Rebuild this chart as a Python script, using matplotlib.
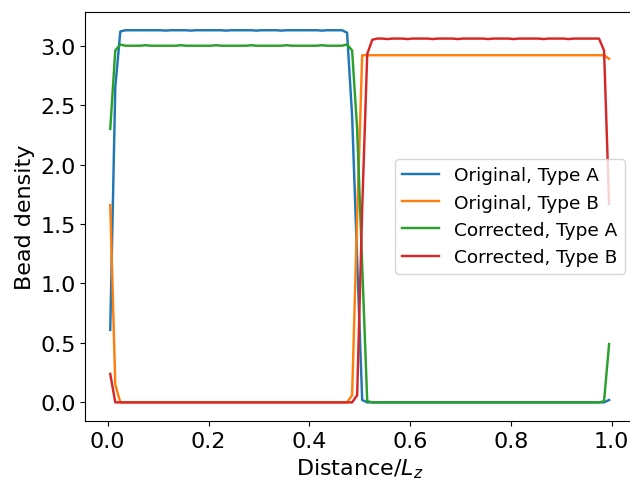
import numpy as np
import matplotlib
matplotlib.use('Agg')
import matplotlib.pyplot as plt

# bin centres along z (100 bins)
dist = np.arange(100) * 0.01 + 0.005

orig_A = [0.61, 2.65, 3.12, 3.13, 3.13, 3.13, 3.13, 3.13, 3.13, 3.13,
          3.13, 3.127, 3.13, 3.13, 3.13, 3.13, 3.127, 3.13, 3.13, 3.13,
          3.13, 3.13, 3.13, 3.127, 3.13, 3.13, 3.13, 3.13, 3.13, 3.127,
          3.13, 3.13, 3.13, 3.13, 3.127, 3.13, 3.13, 3.13, 3.13, 3.13,
          3.13, 3.13, 3.127, 3.13, 3.13, 3.13, 3.13, 3.11, 2.41, 1.20,
          0.02, 0.00, 0.00, 0.00, 0.00, 0.00, 0.00, 0.00, 0.00, 0.00,
          0.00, 0.00, 0.00, 0.00, 0.00, 0.00, 0.00, 0.00, 0.00, 0.00,
          0.00, 0.00, 0.00, 0.00, 0.00, 0.00, 0.00, 0.00, 0.00, 0.00,
          0.00, 0.00, 0.00, 0.00, 0.00, 0.00, 0.00, 0.00, 0.00, 0.00,
          0.00, 0.00, 0.00, 0.00, 0.00, 0.00, 0.00, 0.00, 0.00, 0.02]

orig_B = [1.66, 0.15, 0.00, 0.00, 0.00, 0.00, 0.00, 0.00, 0.00, 0.00,
          0.00, 0.00, 0.00, 0.00, 0.00, 0.00, 0.00, 0.00, 0.00, 0.00,
          0.00, 0.00, 0.00, 0.00, 0.00, 0.00, 0.00, 0.00, 0.00, 0.00,
          0.00, 0.00, 0.00, 0.00, 0.00, 0.00, 0.00, 0.00, 0.00, 0.00,
          0.00, 0.00, 0.00, 0.00, 0.00, 0.00, 0.00, 0.00, 0.06, 1.56,
          2.92, 2.92, 2.92, 2.92, 2.92, 2.92, 2.92, 2.92, 2.92, 2.92,
          2.92, 2.92, 2.92, 2.92, 2.92, 2.92, 2.92, 2.92, 2.92, 2.92,
          2.92, 2.92, 2.92, 2.92, 2.92, 2.92, 2.92, 2.92, 2.92, 2.92,
          2.92, 2.92, 2.92, 2.92, 2.92, 2.92, 2.92, 2.92, 2.92, 2.92,
          2.92, 2.92, 2.92, 2.92, 2.92, 2.92, 2.92, 2.92, 2.92, 2.89]

corr_A = [2.30, 2.96, 3.01, 3.00, 3.00, 3.00, 3.00, 3.004, 3.00, 3.00,
          3.00, 3.00, 3.00, 3.00, 3.004, 3.00, 3.00, 3.00, 3.00, 3.00,
          3.00, 3.004, 3.00, 3.00, 3.00, 3.00, 3.00, 3.00, 3.004, 3.00,
          3.00, 3.00, 3.00, 3.00, 3.00, 3.004, 3.00, 3.00, 3.00, 3.00,
          3.00, 3.00, 3.004, 3.00, 3.00, 3.00, 3.00, 3.01, 2.96, 2.30,
          1.15, 0.01, 0.00, 0.00, 0.00, 0.00, 0.00, 0.00, 0.00, 0.00,
          0.00, 0.00, 0.00, 0.00, 0.00, 0.00, 0.00, 0.00, 0.00, 0.00,
          0.00, 0.00, 0.00, 0.00, 0.00, 0.00, 0.00, 0.00, 0.00, 0.00,
          0.00, 0.00, 0.00, 0.00, 0.00, 0.00, 0.00, 0.00, 0.00, 0.00,
          0.00, 0.00, 0.00, 0.00, 0.00, 0.00, 0.00, 0.00, 0.01, 0.49]

corr_B = [0.24, 0.00, 0.00, 0.00, 0.00, 0.00, 0.00, 0.00, 0.00, 0.00,
          0.00, 0.00, 0.00, 0.00, 0.00, 0.00, 0.00, 0.00, 0.00, 0.00,
          0.00, 0.00, 0.00, 0.00, 0.00, 0.00, 0.00, 0.00, 0.00, 0.00,
          0.00, 0.00, 0.00, 0.00, 0.00, 0.00, 0.00, 0.00, 0.00, 0.00,
          0.00, 0.00, 0.00, 0.00, 0.00, 0.00, 0.00, 0.00, 0.00, 0.06,
          1.63, 2.93, 3.05, 3.06, 3.06, 3.056, 3.06, 3.06, 3.06, 3.056,
          3.06, 3.06, 3.06, 3.06, 3.056, 3.06, 3.06, 3.06, 3.06, 3.056,
          3.06, 3.06, 3.06, 3.06, 3.06, 3.056, 3.06, 3.06, 3.06, 3.06,
          3.056, 3.06, 3.06, 3.06, 3.06, 3.06, 3.056, 3.06, 3.06, 3.06,
          3.06, 3.056, 3.06, 3.06, 3.06, 3.06, 3.06, 3.06, 2.96, 1.67]

labels = ['Original, Type A', 'Original, Type B',
          'Corrected, Type A', 'Corrected, Type B']

fig = plt.figure(figsize=(6.3, 4.81), dpi=100)
ax = fig.add_axes([0.1354, 0.1227, 0.871, 0.851])

for y, lab in zip([orig_A, orig_B, corr_A, corr_B], labels):
    ax.plot(dist, y, label=lab, lw=1.75)

ax.set_xlabel('Distance/$L_z$', fontsize=16)
ax.set_ylabel('Bead density', fontsize=16)
ax.tick_params(labelsize=16)
ax.legend(loc='center right', fontsize=13.3)

fig.savefig('out.png', dpi=100)
